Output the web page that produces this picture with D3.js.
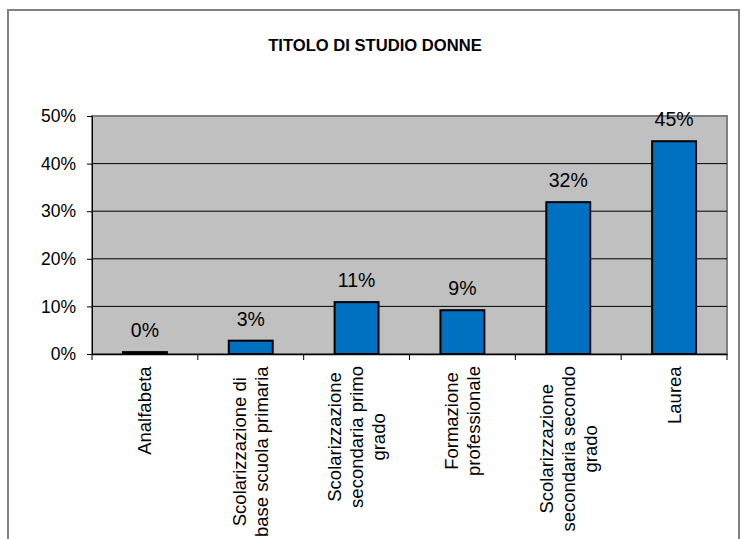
<!DOCTYPE html>
<html><head><meta charset="utf-8">
<script src="https://cdn.jsdelivr.net/npm/d3@7"></script>
<style>body{margin:0;background:#fff}svg{display:block}text{font-family:"Liberation Sans",Arial,sans-serif}</style>
</head><body>
<svg id="c" width="741" height="539"></svg>
<script>
const title = "TITOLO DI STUDIO DONNE";
const categories = ["Analfabeta","Scolarizzazione di base scuola primaria","Scolarizzazione secondaria primo grado","Formazione professionale","Scolarizzazione secondaria secondo grado","Laurea"];
const categoryLines = [["Analfabeta"],["Scolarizzazione di","base scuola primaria"],["Scolarizzazione","secondaria primo","grado"],["Formazione","professionale"],["Scolarizzazione","secondaria secondo","grado"],["Laurea"]];
const values = [0.004, 0.028, 0.109, 0.092, 0.319, 0.447];
const valueLabels = ["0%","3%","11%","9%","32%","45%"];
const yTicks = [0,0.1,0.2,0.3,0.4,0.5];

const svg = d3.select("#c");
// outer frame
svg.append("rect").attr("x",8).attr("y",10).attr("width",731).attr("height",540)
  .attr("fill","#fff").attr("stroke","#808080").attr("stroke-width",2);

const m = {left:92, right:727, top:116, bottom:354};
const x = d3.scaleBand().domain(categories).range([m.left,m.right]).paddingInner(0).paddingOuter(0);
const y = d3.scaleLinear().domain([0,0.5]).range([m.bottom,m.top]);

svg.append("text").attr("x",375).attr("y",51).attr("text-anchor","middle")
  .attr("font-weight","bold").attr("font-size",16.6).text(title);

// plot area
svg.append("rect").attr("x",m.left).attr("y",m.top).attr("width",m.right-m.left).attr("height",m.bottom-m.top)
  .attr("fill","#c0c0c0").attr("stroke","#808080").attr("stroke-width",2);

// gridlines
svg.append("g").selectAll("line").data(yTicks.filter(d=>d>0&&d<0.5)).join("line")
  .attr("x1",m.left).attr("x2",m.right).attr("y1",d=>y(d)).attr("y2",d=>y(d))
  .attr("stroke","#000").attr("stroke-width",1);

// y axis
const ya = svg.append("g").attr("transform",`translate(${m.left},0)`)
  .call(d3.axisLeft(y).tickValues(yTicks).tickFormat(d3.format(".0%")).tickSize(5).tickPadding(11));
ya.select(".domain").attr("stroke","#000");
ya.selectAll("text").attr("font-size",17.5).attr("fill","#000").attr("font-family","Liberation Sans, Arial, sans-serif");
ya.selectAll("line").attr("stroke","#000");

// x axis
const xa = svg.append("g").attr("transform",`translate(0,${m.bottom})`)
  .call(d3.axisBottom(x).tickSize(0).tickFormat(""));
xa.select(".domain").attr("stroke","#000").attr("stroke-width",1.5);
const bounds = categories.map(c=>x(c)).concat([m.right]);
xa.selectAll(".sep").data(bounds).join("line").attr("class","sep")
  .attr("x1",d=>d).attr("x2",d=>d).attr("y1",0).attr("y2",6).attr("stroke","#000");

// bars
const bw = x.bandwidth()*0.415;
svg.append("g").selectAll("rect").data(values).join("rect")
  .attr("x",(d,i)=>x(categories[i])+x.bandwidth()/2-bw/2)
  .attr("y",d=>y(d)).attr("width",bw).attr("height",d=>y(0)-y(d))
  .attr("fill","#0070c0").attr("stroke","#000").attr("stroke-width",2);

// value labels
svg.append("g").selectAll("text").data(values).join("text")
  .attr("x",(d,i)=>x(categories[i])+x.bandwidth()/2)
  .attr("y",d=>y(d)-15).attr("text-anchor","middle").attr("font-size",19.5).attr("fill","#000")
  .text((d,i)=>valueLabels[i]);

// category labels (rotated)
const fs = 18.5, lh = 22;
const lg = svg.append("g");
categoryLines.forEach((lines,i)=>{
  const cx = x(categories[i])+x.bandwidth()/2;
  const g = lg.append("g");
  const t = g.append("text").attr("font-size",fs).attr("fill","#000").attr("text-anchor","middle");
  lines.forEach((l,j)=>{
    t.append("tspan").attr("x",0).attr("y",(j-(lines.length-1)/2)*lh + fs*0.35).text(l);
  });
  const w = t.node().getBBox().width;
  g.attr("transform",`translate(${cx},${366+w/2}) rotate(-90)`);
});
</script>
</body></html>
